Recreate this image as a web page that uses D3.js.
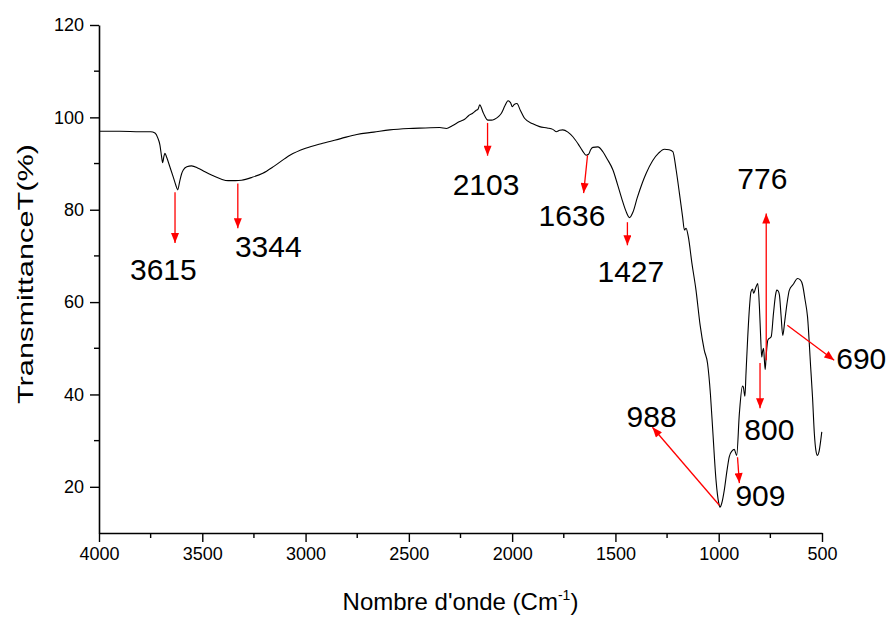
<!DOCTYPE html>
<html>
<head>
<meta charset="utf-8">
<script src="https://cdn.jsdelivr.net/npm/d3@7"></script>
<style>
  body { margin: 0; background: #fff; }
  text { font-family: "Liberation Sans", Arial, sans-serif; }
</style>
</head>
<body>
<div id="chart"></div>
<script>
// spectrum (wavenumber in cm-1, transmittance in %)
var wavenumber = [4000, 3900, 3800, 3750, 3729, 3715, 3705, 3697, 3692, 3686, 3681, 3672, 3657, 3640, 3628, 3619,
  3610, 3600, 3592, 3575, 3552, 3520, 3487, 3450, 3407, 3375, 3340, 3310, 3260, 3207, 3150, 3076, 3000, 2917,
  2830, 2752, 2670, 2593, 2500, 2420, 2351, 2318, 2290, 2254, 2230, 2210, 2191, 2175, 2165, 2157, 2140, 2117,
  2100, 2085, 2065, 2052, 2035, 2020, 2008, 1999, 1990, 1977, 1960, 1940, 1900, 1867, 1830, 1803, 1787, 1770,
  1755, 1730, 1706, 1680, 1660, 1642, 1630, 1620, 1609, 1585, 1560, 1540, 1512, 1490, 1470, 1450, 1432, 1415,
  1395, 1370, 1351, 1320, 1290, 1263, 1240, 1222, 1206, 1190, 1175, 1166, 1158, 1147, 1130, 1110, 1090, 1070,
  1054, 1040, 1029, 1013, 1000, 994, 985, 973, 960, 949, 935, 925, 913, 900, 885, 881, 873, 868, 860, 850, 844,
  836, 831, 820, 811, 803, 797, 792, 787, 783, 779, 775, 770, 762, 746, 735, 725, 719, 712, 706, 698, 690, 680,
  670, 658, 640, 618, 605, 594, 582, 570, 555, 546, 537, 530, 522, 515, 506, 501];
var transmittance = [97.0, 97.0, 96.9, 96.9, 96.6, 95.5, 94.0, 91.5, 90.2, 91.5, 92.2, 91.3, 89.3, 87.0, 85.3, 84.3,
  86.0, 87.8, 88.6, 89.3, 89.5, 89.0, 88.2, 87.4, 86.6, 86.3, 86.3, 86.4, 87.0, 87.9, 89.5, 91.8, 93.3, 94.4,
  95.4, 96.3, 96.8, 97.3, 97.6, 97.7, 97.8, 97.6, 98.2, 99.1, 99.6, 100.4, 100.9, 101.5, 101.8, 102.7, 101.0, 99.4,
  99.4, 99.6, 100.2, 100.9, 102.5, 103.6, 103.2, 102.3, 102.8, 103.0, 101.5, 99.8, 98.6, 98.0, 97.7, 97.4, 96.9, 97.2,
  97.3, 96.8, 95.8, 94.2, 92.8, 91.8, 92.0, 93.0, 93.5, 93.6, 92.5, 91.0, 88.6, 85.5, 82.5, 79.8, 78.3, 79.5,
  82.5, 85.8, 87.9, 90.6, 92.3, 93.1, 93.0, 92.6, 88.6, 83.5, 78.5, 75.6, 76.0, 74.1, 68.5, 62.6, 55.0, 49.6,
  46.7, 40.0, 32.3, 21.4, 16.5, 15.6, 16.5, 19.3, 23.5, 26.5, 27.8, 28.1, 26.8, 35.9, 41.8, 41.6, 39.6, 44.5, 52.0, 59.5, 62.2,
  62.8, 61.9, 63.2, 64.0, 59.0, 52.5, 48.1, 49.5, 50.0, 47.5, 45.4, 48.5, 51.8, 52.5, 57.5, 61.5, 62.6, 62.4, 61.5, 57.0, 52.8, 56.0,
  59.5, 62.6, 63.8, 65.1, 64.8, 63.7, 60.5, 56.8, 46.0, 39.5, 31.5, 28.0, 26.8, 27.5, 30.1, 31.9];

var xTicks = [4000, 3500, 3000, 2500, 2000, 1500, 1000, 500];
var yTicks = [20, 40, 60, 80, 100, 120];

// peak labels: arrow from (w1,t1) to (w2,t2), text at (lw,lt)
var peakLabel = ["3615", "3344", "2103", "1636", "1427", "776", "800", "909", "988", "690"];
var arrowFrom = [[3632, 83.8], [3328, 85.7], [2119, 98.8], [1635, 91.8], [1442, 77.3], [770, 47.4], [800, 46.8], [909, 26.4], [997, 16.0], [668, 55.0]];
var arrowTo   = [[3632, 72.8], [3328, 76.0], [2119, 91.7], [1654, 83.6], [1442, 72.3], [770, 79.2], [800, 37.0], [900, 20.8], [1321, 32.9], [441, 47.4]];
var labelAt   = [[3850, 64.7], [3342, 69.7], [2288, 83.1], [1872, 76.4], [1587, 64.3], [910, 84.4], [876, 30.1], [919, 15.8], [1446, 32.9], [431, 45.5]];

var w = 891, h = 617;
var margin = {left: 99, right: 69, top: 25, bottom: 84};

var svg = d3.select("#chart").append("svg")
    .attr("width", w)
    .attr("height", h);

var x = d3.scaleLinear().domain([4000, 500]).range([margin.left, w - margin.right]);
var y = d3.scaleLinear().domain([10, 120]).range([h - margin.bottom, margin.top]);

// axes
var xAxis = svg.append("g")
    .attr("transform", "translate(0," + (h - margin.bottom) + ")")
    .call(d3.axisBottom(x).tickValues(xTicks).tickFormat(d3.format("d"))
      .tickSize(9).tickPadding(5).tickSizeOuter(0));
xAxis.selectAll("line.minor").data(d3.range(3750, 500, -500)).enter().append("line")
    .attr("class", "minor")
    .attr("x1", function(d){ return x(d); }).attr("x2", function(d){ return x(d); })
    .attr("y1", 0).attr("y2", 5);

var yAxis = svg.append("g")
    .attr("transform", "translate(" + margin.left + ",0)")
    .call(d3.axisLeft(y).tickValues(yTicks).tickSize(9).tickPadding(6).tickSizeOuter(0));
yAxis.selectAll("line.minor").data([110, 90, 70, 50, 30]).enter().append("line")
    .attr("class", "minor")
    .attr("y1", function(d){ return y(d); }).attr("y2", function(d){ return y(d); })
    .attr("x1", 0).attr("x2", -5);

svg.selectAll(".domain").attr("stroke-width", 1.6);
svg.selectAll(".tick line, line.minor").attr("stroke", "#000").attr("stroke-width", 1.4);
svg.selectAll(".tick text").attr("font-size", 18).attr("font-family", "Liberation Sans, Arial, sans-serif").attr("fill", "#000");

// axis titles
svg.append("text")
    .attr("transform", "translate(33,274) rotate(-90)")
    .attr("text-anchor", "middle")
    .attr("font-size", 22)
    .attr("textLength", 260)
    .attr("lengthAdjust", "spacingAndGlyphs")
    .text("TransmittanceT(%)");

var xt = svg.append("text")
    .attr("x", (margin.left + w - margin.right) / 2)
    .attr("y", 610)
    .attr("text-anchor", "middle")
    .attr("font-size", 24);
xt.append("tspan").text("Nombre d'onde (Cm");
xt.append("tspan").attr("font-size", 14).attr("dy", -10).text("-1");
xt.append("tspan").attr("dy", 10).text(")");

// spectrum
var line = d3.line()
    .x(function(d){ return x(d[0]); })
    .y(function(d){ return y(d[1]); })
    .curve(d3.curveMonotoneX);

svg.append("path")
    .datum(d3.zip(wavenumber, transmittance))
    .attr("d", line)
    .attr("fill", "none")
    .attr("stroke", "#000")
    .attr("stroke-width", 1.1);

// arrows
svg.append("defs").append("marker")
    .attr("id", "head")
    .attr("markerUnits", "userSpaceOnUse")
    .attr("viewBox", "0 0 10 8")
    .attr("refX", 10).attr("refY", 4)
    .attr("markerWidth", 11).attr("markerHeight", 8)
    .attr("orient", "auto")
  .append("path")
    .attr("d", "M0,0L10,4L0,8Z")
    .attr("fill", "#ff0000");

svg.selectAll("line.arrow")
    .data(peakLabel)
    .enter().append("line")
    .attr("class", "arrow")
    .attr("x1", function(d, i){ return x(arrowFrom[i][0]); })
    .attr("y1", function(d, i){ return y(arrowFrom[i][1]); })
    .attr("x2", function(d, i){ return x(arrowTo[i][0]); })
    .attr("y2", function(d, i){ return y(arrowTo[i][1]); })
    .attr("stroke", "#ff0000")
    .attr("stroke-width", 1.3)
    .attr("marker-end", "url(#head)");

svg.selectAll("text.peak")
    .data(peakLabel)
    .enter().append("text")
    .attr("class", "peak")
    .attr("x", function(d, i){ return x(labelAt[i][0]); })
    .attr("y", function(d, i){ return y(labelAt[i][1]); })
    .attr("font-size", 30)
    .text(function(d){ return d; });
</script>
</body>
</html>
